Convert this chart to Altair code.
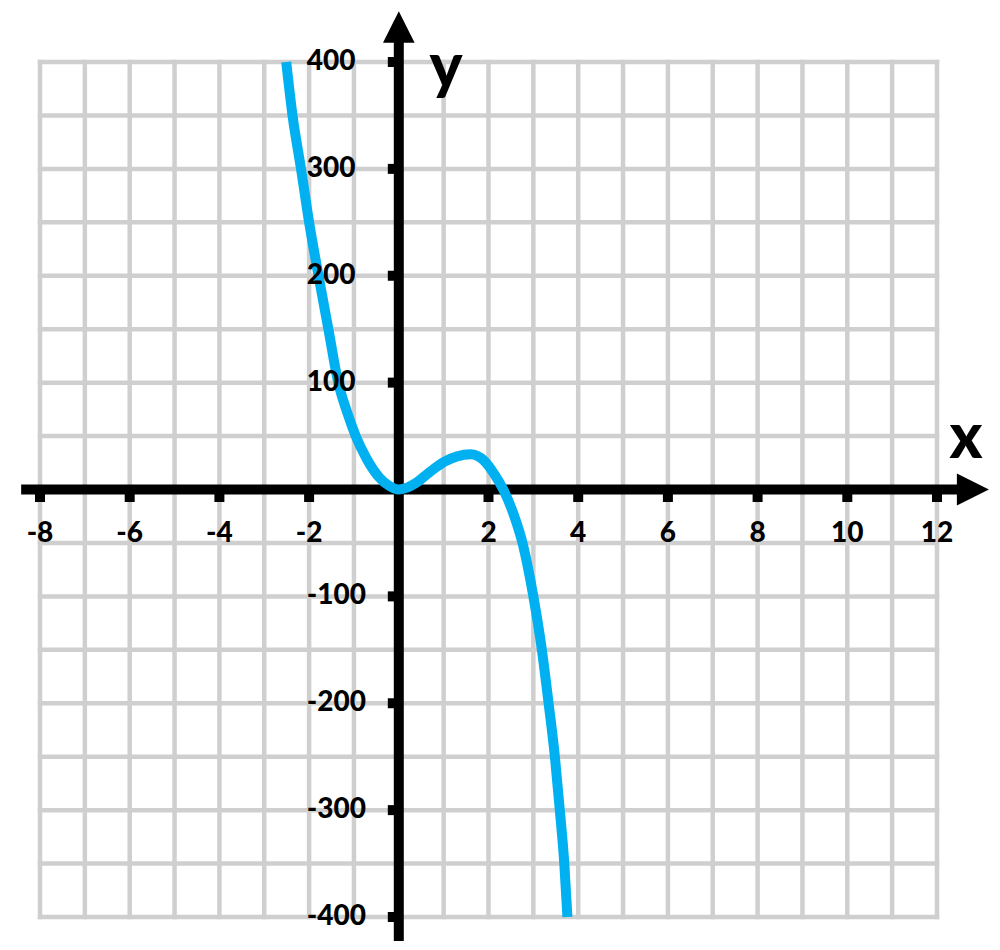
import altair as alt
import pandas as pd

# ---- data ----
curve_x = [-2.51, -2.37, -2.18, -2.00, -1.79, -1.57, -1.35, -1.15, -0.96, -0.72,
           -0.45, -0.20, 0.00, 0.20, 0.38, 0.65, 1.02, 1.30, 1.60, 1.90, 2.12,
           2.33, 2.55, 2.77, 3.00, 3.19, 3.34, 3.48, 3.59, 3.69, 3.76]
curve_y = [400, 350, 300, 250, 200, 150, 100, 72, 50, 29,
           12, 3, 0, 2, 6, 15, 26, 31, 33, 27, 15,
           0, -22, -52, -100, -150, -200, -250, -300, -350, -400]

x_tick_values = [-8, -6, -4, -2, 2, 4, 6, 8, 10, 12]
x_tick_labels = ["-8", "-6", "-4", "-2", "2", "4", "6", "8", "10", "12"]
y_tick_values = [-400, -300, -200, -100, 100, 200, 300, 400]
y_tick_labels = ["-400", "-300", "-200", "-100", "100", "200", "300", "400"]
x_grid_values = [-8, -7, -6, -5, -4, -3, -2, -1, 0, 1, 2, 3, 4, 5, 6, 7, 8, 9, 10, 11, 12]
y_grid_values = [-400, -350, -300, -250, -200, -150, -100, -50, 0,
                 50, 100, 150, 200, 250, 300, 350, 400]
x_title = "x"
y_title = "y"

# ---- styling ----
W, H = 897, 855
GRID = "#cfcfcf"
BLUE = "#00B0F0"
FONT = "Lato"

xs = alt.Scale(domain=[-8, 12], nice=False, zero=False)
ys = alt.Scale(domain=[-400, 400], nice=False, zero=False)

one = pd.DataFrame({"k": [0]})

grid_v = alt.Chart(pd.DataFrame({"g": x_grid_values})).mark_rule(
    color=GRID, strokeWidth=4.5, strokeCap="square"
).encode(
    x=alt.X("g:Q", scale=xs, axis=None),
    y=alt.YDatum(-400, scale=ys, axis=None),
    y2=alt.Y2Datum(400),
)

grid_h = alt.Chart(pd.DataFrame({"g": y_grid_values})).mark_rule(
    color=GRID, strokeWidth=4.5, strokeCap="square"
).encode(
    y=alt.Y("g:Q", scale=ys, axis=None),
    x=alt.XDatum(-8, scale=xs, axis=None),
    x2=alt.X2Datum(12),
)

x_axis = alt.Chart(one).mark_rule(color="black", strokeWidth=10).encode(
    x=alt.XDatum(-8.42, scale=xs, axis=None),
    x2=alt.X2Datum(12.5),
    y=alt.YDatum(0, scale=ys, axis=None),
)

y_axis = alt.Chart(one).mark_rule(color="black", strokeWidth=10).encode(
    x=alt.XDatum(0, scale=xs, axis=None),
    y=alt.YDatum(-424, scale=ys, axis=None),
    y2=alt.Y2Datum(420),
)

x_arrow = alt.Chart(one).mark_point(
    shape="M1,0L-1,-1L-1,1Z", filled=True, size=1024, color="black", opacity=1, strokeWidth=0
).encode(
    x=alt.XDatum(12.8, scale=xs, axis=None),
    y=alt.YDatum(0, scale=ys, axis=None),
)

y_arrow = alt.Chart(one).mark_point(
    shape="M0,-1L1,1L-1,1Z", filled=True, size=1000, color="black", opacity=1, strokeWidth=0
).encode(
    x=alt.XDatum(0, scale=xs, axis=None),
    y=alt.YDatum(432.7, scale=ys, axis=None),
)

x_ticks_df = pd.DataFrame({"t": x_tick_values, "lab": x_tick_labels})
y_ticks_df = pd.DataFrame({"t": y_tick_values, "lab": y_tick_labels})

x_ticks = alt.Chart(x_ticks_df).mark_rule(color="black", strokeWidth=10).encode(
    x=alt.X("t:Q", scale=xs, axis=None),
    y=alt.YDatum(0, scale=ys, axis=None),
    y2=alt.Y2Datum(-11.7),
)

y_ticks = alt.Chart(y_ticks_df).mark_rule(color="black", strokeWidth=10).encode(
    y=alt.Y("t:Q", scale=ys, axis=None),
    x=alt.XDatum(0, scale=xs, axis=None),
    x2=alt.X2Datum(-0.245),
)

curve = alt.Chart(pd.DataFrame({"x": curve_x, "y": curve_y})).mark_line(
    color=BLUE, strokeWidth=10, interpolate="monotone", strokeCap="butt"
).encode(
    x=alt.X("x:Q", scale=xs, axis=None),
    y=alt.Y("y:Q", scale=ys, axis=None),
)

x_labels = alt.Chart(x_ticks_df).mark_text(
    font=FONT, fontWeight=900, fontSize=28, dy=44, baseline="middle", align="center", color="black"
).encode(
    x=alt.X("t:Q", scale=xs, axis=None),
    y=alt.YDatum(0, scale=ys, axis=None),
    text="lab:N",
)

y_labels = alt.Chart(y_ticks_df).mark_text(
    font=FONT, fontWeight=900, fontSize=28, dx=-92, baseline="middle", align="left", color="black"
).encode(
    y=alt.Y("t:Q", scale=ys, axis=None),
    x=alt.XDatum(0, scale=xs, axis=None),
    text="lab:N",
)

y_name = alt.Chart(pd.DataFrame({"lab": [y_title]})).mark_text(
    font=FONT, fontWeight=900, fontSize=62, baseline="alphabetic", align="center", color="black"
).encode(x=alt.value(406), y=alt.value(26), text="lab:N")

x_name = alt.Chart(pd.DataFrame({"lab": [x_title]})).mark_text(
    font=FONT, fontWeight=900, fontSize=62, baseline="alphabetic", align="center", color="black"
).encode(x=alt.value(926), y=alt.value(396), text="lab:N")

chart = alt.layer(
    grid_v, grid_h, x_axis, y_axis, x_arrow, y_arrow, x_ticks, y_ticks,
    curve, x_labels, y_labels, y_name, x_name
).properties(
    width=W,
    height=H,
    padding={"left": 32, "top": 54, "right": 54, "bottom": 24},
    autosize=alt.AutoSizeParams(type="none"),
    background="white",
).configure_view(stroke=None)

chart.save("out.html", embed_options={"renderer": "svg", "actions": False})
